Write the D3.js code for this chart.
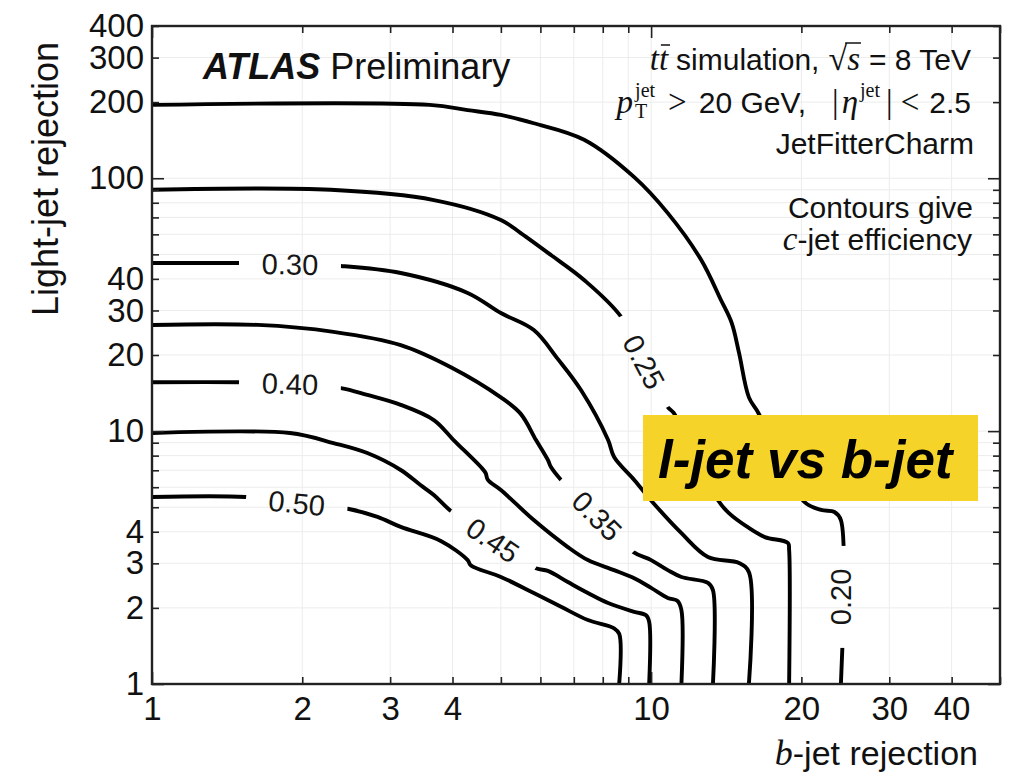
<!DOCTYPE html>
<html>
<head>
<meta charset="utf-8">
<script src="https://cdn.jsdelivr.net/npm/d3@7"></script>
<style>
  html, body { margin: 0; padding: 0; background: #fff; }
  svg text { white-space: pre; }
</style>
</head>
<body>
<svg id="chart" width="1016" height="775"></svg>
<script>
// c-jet efficiency contours in the (b-jet rejection, light-jet rejection) plane
const levels = ["0.20", "0.25", "0.30", "0.35", "0.40", "0.45", "0.50"];

// each contour: [b-jet rejection, light-jet rejection]
const contour020 = [[1,195],[3.6,195],[4.29,186],[5.0,178],[5.82,165],[7.34,142],[9.25,101],[10.8,72.8],[12.6,47.5],[13.8,33],[14.5,26.8],[15.0,20.4],[15.7,13.6],[16.4,11.8],[18.2,7.7],[20.3,5.24],[21.9,4.88],[23.3,4.79],[24.0,4.45],[24.0,1]];
const contour025 = [[1,90],[2.28,90],[3.67,82],[5.0,68.4],[5.48,60.7],[6.3,49.7],[7.34,39.6],[8.71,28.3],[9.68,18.8],[10.8,12.45],[11.1,11.8],[12.3,7.7],[13.6,5.34],[14.3,4.75],[15.7,4.14],[16.9,3.81],[18.8,3.61],[18.9,3.39],[18.9,1]];
const contour030 = [[1,46.2],[1.49,46.2],[1.89,45.8],[2.39,45.0],[3.15,42.2],[4.29,35.2],[5.0,29.3],[5.82,25.1],[6.5,19.3],[7.24,14.5],[8.2,9.22],[8.43,7.9],[9.25,6.41],[10.1,5.2],[11.5,3.95],[13.0,3.18],[15.0,3.01],[15.7,2.77],[15.7,1]];
const contour035 = [[1,26.3],[1.63,26.3],[2.31,24.7],[3.15,21.9],[3.97,17.9],[5.0,13.6],[5.48,11.7],[5.88,9.22],[6.21,7.69],[6.3,7.21],[6.6,6.41],[7.79,4.62],[9.2,3.33],[10.0,3.09],[10.8,2.82],[11.5,2.65],[13.0,2.51],[13.3,2.35],[13.3,1]];
const contour040 = [[1,15.6],[1.5,15.6],[1.89,15.4],[2.39,14.8],[2.7,13.9],[3.15,12.7],[3.67,11.06],[4.02,9.22],[4.56,7.21],[4.66,6.83],[4.71,6.41],[5.0,5.85],[5.82,4.45],[6.81,3.48],[7.47,3.09],[8.43,2.82],[9.25,2.62],[10.0,2.40],[10.8,2.19],[11.3,2.13],[11.5,1.96],[11.5,1]];
const contour045 = [[1,9.83],[1.89,9.83],[2.31,8.97],[2.7,8.19],[3.15,7.02],[3.45,6.12],[3.67,5.59],[3.97,4.83],[4.82,3.71],[5.88,2.87],[6.21,2.8],[6.81,2.53],[7.47,2.29],[8.2,2.09],[9.25,1.93],[9.77,1.87],[9.91,1.76],[9.91,1]];
const contour050 = [[1,5.49],[1.54,5.49],[1.95,5.2],[2.48,4.92],[2.83,4.58],[3.15,4.18],[3.79,3.68],[4.29,3.09],[4.35,2.95],[5.0,2.65],[5.82,2.29],[6.6,2.02],[7.47,1.79],[8.43,1.66],[8.63,1.58],[8.63,1]];
const contours = [contour020, contour025, contour030, contour035, contour040, contour045, contour050];

// inline contour labels: position on the contour and text angle (degrees)
const labelBRej  = [24.0, 9.68, 1.89, 7.79, 1.89, 4.82, 1.95];
const labelLRej  = [2.21, 18.8, 45.8, 4.62, 15.4, 3.71, 5.20];
const labelAngle = [-90, 62, 1, 45, 2, 34, 6];

const xTickLabels = [1, 2, 3, 4, 10, 20, 30, 40];
const yTickLabels = [1, 2, 3, 4, 10, 20, 30, 40, 100, 200, 300, 400];

const SANS = '"Liberation Sans", Arial, Helvetica, sans-serif';
const SERIF = '"Liberation Serif", "Times New Roman", serif';

const svg = d3.select('#chart');
const L = 152, R = 1000, T = 26, B = 684;

const x = d3.scaleLog().domain([1, 50]).range([L, R]);
const y = d3.scaleLog().domain([1, 400]).range([B, T]);

function logTicks(max) {
  const out = [];
  for (let d = 1; d <= max; d *= 10)
    for (let m = 1; m <= 9; m++) { const v = m * d; if (v <= max) out.push(v); }
  return out;
}
const xTicks = logTicks(50);
const yTicks = logTicks(400);
const isDecade = v => Math.abs(Math.log10(v) - Math.round(Math.log10(v))) < 1e-9;

// faint grid
const grid = svg.append('g').attr('stroke', '#ececec').attr('stroke-width', 1);
grid.selectAll('line.gx').data(xTicks).join('line')
  .attr('x1', d => x(d)).attr('x2', d => x(d)).attr('y1', T).attr('y2', B);
grid.selectAll('line.gy').data(yTicks).join('line')
  .attr('x1', L).attr('x2', R).attr('y1', d => y(d)).attr('y2', d => y(d));

// mask that opens gaps in the contours where the labels sit
const defs = svg.append('defs');
const mask = defs.append('mask').attr('id', 'labelGaps')
  .attr('maskUnits', 'userSpaceOnUse').attr('x', 0).attr('y', 0).attr('width', 1016).attr('height', 775);
mask.append('rect').attr('x', 0).attr('y', 0).attr('width', 1016).attr('height', 775).attr('fill', '#fff');
mask.selectAll('rect.gap').data(levels).join('rect')
  .attr('x', -51).attr('y', -16).attr('width', 102).attr('height', 32).attr('fill', '#000')
  .attr('transform', (d, i) => `translate(${x(labelBRej[i])},${y(labelLRej[i])}) rotate(${labelAngle[i]})`);
defs.append('clipPath').attr('id', 'plotClip')
  .append('rect').attr('x', L).attr('y', T).attr('width', R - L).attr('height', B - T);

const line = d3.line()
  .x(d => x(d[0])).y(d => y(d[1]))
  .curve(d3.curveCatmullRom.alpha(0.5));

svg.append('g').attr('clip-path', 'url(#plotClip)')
  .append('g').attr('mask', 'url(#labelGaps)')
  .selectAll('path').data(contours).join('path')
  .attr('d', line).attr('fill', 'none').attr('stroke', '#000')
  .attr('stroke-width', 3.9).attr('stroke-linejoin', 'round');

// contour labels
svg.append('g').selectAll('text').data(levels).join('text')
  .attr('transform', (d, i) => `translate(${x(labelBRej[i])},${y(labelLRej[i])}) rotate(${labelAngle[i]})`)
  .attr('text-anchor', 'middle').attr('dy', '0.36em')
  .attr('font-family', SANS).attr('font-size', 29).attr('fill', '#161616')
  .text(d => d);

// axes with inward ticks on all four sides
function styleAxis(g, labelled) {
  g.select('.domain').remove();
  g.selectAll('.tick line').attr('stroke', '#222').attr('stroke-width', 1.6);
  g.selectAll('.tick text').attr('font-family', SANS).attr('font-size', 33).attr('fill', '#111');
  if (!labelled) g.selectAll('.tick text').remove();
}
const fmt = list => d => (list.includes(d) ? String(d) : '');

const gB = svg.append('g').attr('transform', `translate(0,${B})`)
  .call(d3.axisBottom(x).tickValues(xTicks).tickSize(-7).tickPadding(13).tickFormat(fmt(xTickLabels)));
gB.selectAll('.tick line').attr('y2', d => (isDecade(d) ? -12 : -7));
styleAxis(gB, true);

const gT = svg.append('g').attr('transform', `translate(0,${T})`)
  .call(d3.axisTop(x).tickValues(xTicks).tickSize(-7).tickFormat(''));
gT.selectAll('.tick line').attr('y2', d => (isDecade(d) ? 12 : 7));
styleAxis(gT, false);

const gL = svg.append('g').attr('transform', `translate(${L},0)`)
  .call(d3.axisLeft(y).tickValues(yTicks).tickSize(-7).tickPadding(8).tickFormat(fmt(yTickLabels)));
gL.selectAll('.tick line').attr('x2', d => (isDecade(d) ? 12 : 7));
styleAxis(gL, true);

const gR = svg.append('g').attr('transform', `translate(${R},0)`)
  .call(d3.axisRight(y).tickValues(yTicks).tickSize(-7).tickFormat(''));
gR.selectAll('.tick line').attr('x2', d => (isDecade(d) ? -12 : -7));
styleAxis(gR, false);

// frame
svg.append('rect').attr('x', L).attr('y', T).attr('width', R - L).attr('height', B - T)
  .attr('fill', 'none').attr('stroke', '#222').attr('stroke-width', 2.4);

// text made of mixed-font pieces, laid out left to right
function richText(parent, pieces, ax, baseline, align) {
  const g = parent.append('g');
  let cx = 0, prevStart = 0;
  pieces.forEach(p => {
    if (p.gap !== undefined) { cx += p.gap; return; }
    const size = p.size || 30;
    const t = g.append('text')
      .attr('y', baseline + (p.shift || 0))
      .attr('font-family', p.serif ? SERIF : SANS)
      .attr('font-size', size)
      .attr('font-style', p.italic ? 'italic' : 'normal')
      .attr('font-weight', p.bold ? 'bold' : 'normal')
      .attr('fill', p.fill || '#111')
      .text(p.t);
    const w = t.node().getComputedTextLength();
    let px;
    if (p.stack) { px = prevStart; cx = Math.max(cx, prevStart + w); }
    else { px = cx; prevStart = cx; cx += w; }
    t.attr('x', px);
    if (p.bar) {
      const by = baseline - p.barH;
      g.append('line')
        .attr('x1', px + (p.barDx || 0)).attr('x2', px + w + (p.barDx || 0) + (p.barExtra || 0))
        .attr('y1', by).attr('y2', by)
        .attr('stroke', '#111').attr('stroke-width', 1.5);
    }
  });
  const shift = align === 'end' ? ax - cx : ax;
  g.attr('transform', `translate(${shift},0)`);
  return g;
}

const ann = svg.append('g');
richText(ann, [
  { t: 'ATLAS', bold: true, italic: true, size: 36 },
  { gap: 10 },
  { t: 'Preliminary', size: 36 }
], 203, 79, 'start');

richText(ann, [
  { t: 't', serif: true, italic: true, size: 33 },
  { t: 't', serif: true, italic: true, size: 33, bar: true, barDx: 2, barH: 25 },
  { gap: 8 },
  { t: 'simulation,' },
  { gap: 9 },
  { t: '√', serif: true, size: 34 },
  { t: 's', serif: true, italic: true, size: 33, bar: true, barDx: -2, barH: 27, barExtra: 3 },
  { gap: 9 },
  { t: '= 8 TeV' }
], 971, 70, 'end');

richText(ann, [
  { t: 'p', serif: true, italic: true, size: 33 },
  { gap: 2 },
  { t: 'jet', serif: true, size: 20, shift: -16 },
  { t: 'T', serif: true, size: 20, shift: 5, stack: true },
  { gap: 13 },
  { t: '>', serif: true, size: 33 },
  { gap: 12 },
  { t: '20 GeV,' },
  { gap: 26 },
  { t: '|', serif: true, size: 33 },
  { gap: 3 },
  { t: 'η', serif: true, italic: true, size: 33 },
  { gap: 2 },
  { t: 'jet', serif: true, size: 20, shift: -16 },
  { gap: 6 },
  { t: '|', serif: true, size: 33 },
  { gap: 8 },
  { t: '<', serif: true, size: 33 },
  { gap: 10 },
  { t: '2.5' }
], 971, 113, 'end');

richText(ann, [{ t: 'JetFitterCharm' }], 974, 154, 'end');
richText(ann, [{ t: 'Contours give' }], 973, 218, 'end');
richText(ann, [
  { t: 'c', serif: true, italic: true, size: 33 },
  { t: '-jet efficiency' }
], 972, 250, 'end');

// axis titles
svg.append('text')
  .attr('transform', 'translate(58,179) rotate(-90)')
  .attr('text-anchor', 'middle')
  .attr('font-family', SANS).attr('font-size', 36).attr('fill', '#111')
  .text('Light-jet rejection');

richText(svg, [
  { t: 'b', serif: true, italic: true, size: 36 },
  { t: '-jet rejection', size: 34 }
], 978, 765, 'end');

// highlighted tag
const tag = svg.append('g');
tag.append('rect').attr('x', 643).attr('y', 415).attr('width', 335).attr('height', 86)
  .attr('fill', '#F5D328');
tag.append('text').attr('x', 658).attr('y', 478)
  .attr('font-family', SANS).attr('font-size', 53)
  .attr('font-weight', 'bold').attr('font-style', 'italic').attr('fill', '#000')
  .text('l-jet vs b-jet');
</script>
</body>
</html>
